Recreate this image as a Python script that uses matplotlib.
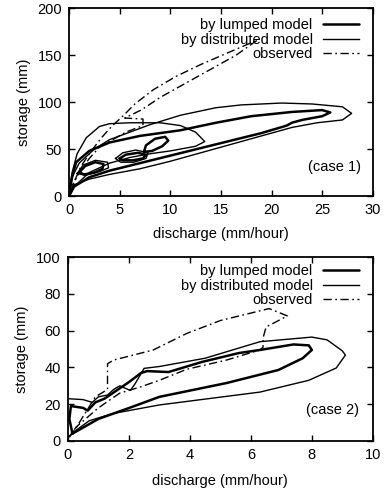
import matplotlib.pyplot as plt

plt.rcParams['font.family'] = ['Liberation Sans', 'DejaVu Sans']
plt.rcParams['font.size'] = 10.5

# ---- case 1 (top) ----
# lumped model (thick) main loop
c1_lump_q = [0, 0.3, 0.7, 2, 4, 7, 11, 14.5, 18, 22, 25, 25.8, 25, 23, 22, 21.5, 19, 16, 13, 10, 7, 4, 2, 0.5, 0]
c1_lump_s = [0, 20, 36, 48, 57, 64, 70, 78, 85, 89.5, 91.5, 89, 85, 81, 78, 75, 67, 59, 51, 43, 35, 27, 20, 10, 0]
# small loops of the lumped model
c1_lump_e1_q = [1.0, 1.6, 2.6, 3.4, 3.3, 2.5, 1.5, 1.0]
c1_lump_e1_s = [25, 32, 36, 34, 29, 25, 23, 25]
c1_lump_e2_q = [5.0, 5.6, 6.8, 7.6, 7.3, 6.3, 5.3, 5.0]
c1_lump_e2_s = [40, 44, 46, 44, 40, 38, 38, 40]
c1_lump_e3_q = [7.4, 7.6, 8.5, 9.5, 9.8, 9.2, 8.2, 7.4]
c1_lump_e3_s = [47, 54, 61, 63, 59, 53, 48, 47]
# distributed model (thin) big loop
c1_dist_q = [0, 0.5, 2, 4, 7, 10, 13, 16, 19, 22, 24.5, 27, 27.9, 27, 24, 21, 17, 14.5, 11, 8, 6, 4, 2.5, 1, 0.3, 0]
c1_dist_s = [0, 12, 18, 23, 29, 37, 46, 55, 64, 73, 78, 81, 88, 95, 98, 99, 97, 94, 86, 76, 68, 60, 50, 35, 20, 8]
# distributed model plateau loop
c1_dist2_q = [0, 0.3, 0.8, 1.7, 3, 4, 6, 9, 11, 12.5, 13.4, 12.5, 10, 8, 6, 4, 2, 0.5, 0]
c1_dist2_s = [5, 25, 45, 62, 74, 77, 78, 78, 75, 68, 58, 53, 48, 45, 41, 35, 25, 10, 0]
# small thin loops
c1_dist_e1_q = [0.8, 1.4, 2.6, 3.8, 3.9, 3.0, 1.6, 0.8]
c1_dist_e1_s = [24, 33, 38, 36, 30, 26, 22, 24]
c1_dist_e2_q = [4.6, 5.3, 6.6, 7.8, 7.6, 6.4, 5.1, 4.6]
c1_dist_e2_s = [40, 46, 49, 46, 40, 36, 36, 40]
# observed (dash-dot)
c1_obs_q = [0, 0.5, 1.2, 2.2, 3.2, 4.2, 5.4, 6.5, 8.3, 10.5, 13, 16, 18.6, 16.5, 14, 11.5, 9, 7.2,
            5.5, 7.3, 7.3, 5.6, 4, 3, 2, 1.2, 0.5, 0]
c1_obs_s = [0, 15, 32, 48, 62, 74, 86, 98, 113, 127, 140, 154, 166, 150, 135, 120, 105, 92,
            83, 82, 75, 68, 58, 52, 40, 28, 15, 0]

# ---- case 2 (bottom) ----
c2_lump_q = [0.15, 0.05, 0.1, 0.3, 0.5, 0.65, 0.9, 1.2, 1.6, 2.0, 2.4, 2.6, 3.3, 4.4, 5.6, 6.3, 7.4, 7.9,
             8.0, 7.7, 6.9, 5.2, 3.0, 2.1, 1.0, 0.15]
c2_lump_s = [4, 12, 19, 18.5, 18, 16.5, 21, 23, 27.5, 32, 37, 38, 37.5, 43, 47.8, 49.5, 52.5, 52,
             49.5, 45, 38.6, 31.5, 24, 18.5, 12, 4]
c2_dist_q = [0, 0.5, 0.8, 1.0, 1.3, 1.5, 1.7, 2.05, 2.2, 2.5, 3.0, 4.5, 6.3, 8.0, 8.5, 9.0, 9.1,
             8.8, 7.9, 6.3, 3.0, 1.5, 0.7, 0.2, 0]
c2_dist_s = [23, 22.5, 21, 24, 25, 28, 30, 27.5, 31, 39.5, 40.5, 45, 54, 56.5, 55, 49, 46.7,
             39.7, 33, 26.6, 19.6, 15, 11, 5, 2]
c2_obs_q = [0.05, 0.3, 0.6, 0.9, 1.3, 1.3, 1.5, 2.8, 3.9, 5.0, 6.6, 7.2, 6.5, 6.4, 6.4, 6.3, 5.2,
            3.9, 3.0, 2.4, 1.7, 1.0, 0.3, 0]
c2_obs_s = [2, 8, 16, 24, 28, 42, 44, 49.5, 58.5, 65.5, 72, 68, 62, 56, 51, 49.5, 44,
            39, 33, 29.5, 26, 18, 8, 2]

thick = dict(color='black', lw=1.8, solid_joinstyle='round', solid_capstyle='round')
thin = dict(color='black', lw=1.0, solid_joinstyle='round')
dashdot = dict(color='black', lw=1.0, linestyle=(0, (6, 2.5, 1.2, 2.5)))

fig = plt.figure(figsize=(3.9, 4.93), dpi=100)
ax1 = fig.add_axes([0.177, 0.6024, 0.779, 0.381])
ax2 = fig.add_axes([0.174, 0.1055, 0.782, 0.373])

# top panel
ax1.plot(c1_lump_q, c1_lump_s, label='by lumped model', **thick)
ax1.plot(c1_dist_q, c1_dist_s, label='by distributed model', **thin)
ax1.plot(c1_obs_q, c1_obs_s, label='observed', **dashdot)
for q, s in [(c1_lump_e1_q, c1_lump_e1_s), (c1_lump_e2_q, c1_lump_e2_s), (c1_lump_e3_q, c1_lump_e3_s)]:
    ax1.plot(q, s, **thick)
for q, s in [(c1_dist2_q, c1_dist2_s), (c1_dist_e1_q, c1_dist_e1_s), (c1_dist_e2_q, c1_dist_e2_s)]:
    ax1.plot(q, s, **thin)
ax1.set_xlim(0, 30)
ax1.set_ylim(0, 200)
ax1.set_xticks([0, 5, 10, 15, 20, 25, 30])
ax1.set_yticks([0, 50, 100, 150, 200])
ax1.text(0.96, 0.155, '(case 1)', transform=ax1.transAxes, ha='right', va='center')
ax1.set_xlabel('discharge (mm/hour)', labelpad=7)

# bottom panel
ax2.plot(c2_lump_q, c2_lump_s, label='by lumped model', **thick)
ax2.plot(c2_dist_q, c2_dist_s, label='by distributed model', **thin)
ax2.plot(c2_obs_q, c2_obs_s, label='observed', **dashdot)
ax2.set_xlim(0, 10)
ax2.set_ylim(0, 100)
ax2.set_xticks([0, 2, 4, 6, 8, 10])
ax2.set_yticks([0, 20, 40, 60, 80, 100])
ax2.text(0.956, 0.17, '(case 2)', transform=ax2.transAxes, ha='right', va='center')
ax2.set_xlabel('discharge (mm/hour)', labelpad=9)

for ax, top in ((ax1, 0.97), (ax2, 0.985)):
    ax.set_ylabel('storage (mm)', labelpad=5)
    ax.tick_params(direction='in', top=True, right=True, length=4, width=1, pad=5)
    for sp in ax.spines.values():
        sp.set_linewidth(1.3)
    ax.legend(loc='upper right', bbox_to_anchor=(0.97, top), markerfirst=False, frameon=False,
              handlelength=2.5, handletextpad=0.7, labelspacing=0.03, borderaxespad=0, borderpad=0.3)

fig.savefig('out.png', dpi=100)
